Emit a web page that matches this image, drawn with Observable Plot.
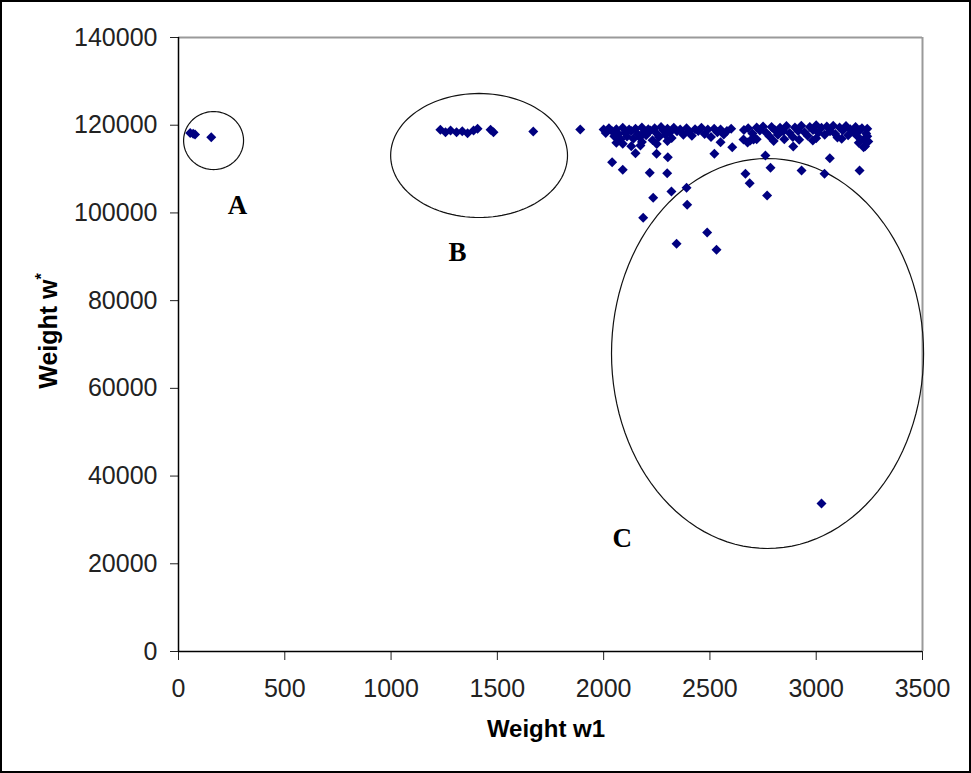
<!DOCTYPE html>
<html><head><meta charset="utf-8">
<script src="https://cdn.jsdelivr.net/npm/d3@7"></script>
<script src="https://cdn.jsdelivr.net/npm/@observablehq/plot@0.6"></script>
<style>body{margin:0;background:#fff}</style>
</head><body><div id="chart"></div>
<script>
const xTicks = [0, 500, 1000, 1500, 2000, 2500, 3000, 3500];
const yTicks = [0, 20000, 40000, 60000, 80000, 100000, 120000, 140000];
const xLabel = "Weight w1";
const yLabel = "Weight w";
const yLabelSup = "*";

// Weight w1 values of each point
const w1 = [
  55, 69, 78, 154,
  1232, 1256, 1280, 1308, 1335, 1360, 1388, 1407, 1468, 1482, 1669, 1890,
  2000, 2010, 2025, 2040, 2050, 2060, 2070, 2080, 2090, 2100, 2110, 2120, 2130, 2140, 2150, 2160, 2170, 2180, 2190, 2200,
  2210, 2220, 2230, 2240, 2250, 2260, 2270, 2280, 2290, 2300, 2310, 2320, 2330, 2345, 2360, 2375, 2390, 2400, 2415, 2430,
  2445, 2460, 2475, 2490, 2505, 2520, 2535, 2550, 2565, 2580, 2600, 2660, 2680, 2700, 2710, 2720, 2735, 2750, 2765, 2780,
  2790, 2805, 2820, 2830, 2845, 2860, 2875, 2890, 2900, 2915, 2930, 2945, 2960, 2970, 2985, 3000, 3010, 3025, 3040, 3050,
  3065, 3080, 3090, 3100, 3110, 3125, 3140, 3150, 3160, 3175, 3185, 3195, 3205, 3215, 3225, 3235, 3240, 3245,
  2060, 2090, 2130, 2180, 2250, 2300, 2550, 2690, 2720, 2800, 2850, 2920, 3000, 3120, 3200, 3230,
  2040, 2090, 2217, 2299, 2319, 2390, 2233, 2393, 2186, 2487, 2343, 2531, 2521, 2605, 2667, 2687,
  2249, 2302, 2150, 2173, 2658, 2677,
  2761, 2785, 2769, 2931, 3039, 3064, 3204, 2984, 2892, 2705, 3223, 3240,
  3025
];
// Weight w* values of each point
const wStar = [
  118200, 118040, 117900, 117270,
  118950, 118410, 118790, 118410, 118600, 118180, 118790, 119180, 118950, 118410, 118570, 119000,
  119000, 118200, 119300, 118600, 117500, 119100, 118000, 116800, 119400, 118300, 117400, 119000, 118700, 116900, 119200, 118000, 117200, 119500, 118400, 117700,
  119100, 118800, 116600, 119300, 118100, 117300, 119600, 118900, 117900, 119200, 118300, 117100, 119400, 118600, 119000, 117800, 119300, 118500, 117600, 119100,
  118700, 119400, 118000, 119000, 117300, 119200, 118400, 119000, 117900, 118700, 119200, 118900, 119300, 118100, 117000, 119500, 118800, 119700, 118300, 117500,
  119600, 118900, 117800, 119400, 118600, 119800, 118200, 117300, 119500, 118700, 119900, 118400, 117600, 119600, 118900, 120000, 118300, 119400, 117800, 119700,
  118600, 119900, 118000, 117200, 119500, 118800, 119800, 117700, 119100, 118400, 119600, 117400, 118900, 119300, 116800, 118100, 117500, 116300,
  116000, 115800, 115200, 116200, 115700, 116400, 116100, 116500, 116800, 116400, 116800, 116700, 117000, 116900, 116000, 115200,
  111570, 109830, 109150, 109070, 104890, 105730, 103450, 101850, 98890, 95540, 92970, 91600, 113480, 115000, 108920, 106780,
  113480, 112720, 113620, 115370, 116740, 116060,
  113100, 110290, 103970, 109680, 108920, 112490, 109680, 116510, 115140, 116740, 114990, 119170,
  33740
];
const points = w1.map((x, i) => ({x, y: wStar[i]}));

// annotation ellipses (centre and radii in data units) and their letters
const groupNames = ["A", "B", "C"];
const groupCx = [165, 1414, 2771];
const groupCy = [116500, 113100, 67950];
const groupRx = [141, 416, 734];
const groupRy = [6610, 14140, 44460];
const letterX = [278, 1312, 2088];
const letterY = [101700, 90980, 25770];

const outline = [];
groupNames.forEach((g, i) => {
  for (let k = 0; k <= 120; k++) {
    const t = (k / 120) * 2 * Math.PI;
    outline.push({g, x: groupCx[i] + groupRx[i] * Math.cos(t), y: groupCy[i] + groupRy[i] * Math.sin(t)});
  }
});
const letters = groupNames.map((g, i) => ({g, x: letterX[i], y: letterY[i]}));

const W = 971, H = 773;
const chart = Plot.plot({
  width: W, height: H,
  marginLeft: 178, marginRight: 49, marginTop: 37, marginBottom: 122,
  style: {fontFamily: "'Liberation Sans', Arial, sans-serif", fontSize: "25px", background: "#fff", overflow: "visible"},
  x: {domain: [0, 3500]},
  y: {domain: [0, 140000]},
  marks: [
    Plot.ruleY([140000], {stroke: "#9a9a9a", strokeWidth: 2}),
    Plot.ruleX([3500], {stroke: "#9a9a9a", strokeWidth: 2}),
    Plot.axisX({ticks: xTicks, tickSize: 9, tickPadding: 19, tickFormat: d => String(d), label: null, color: "#222"}),
    Plot.axisY({ticks: yTicks, tickSize: 8, tickPadding: 13, tickFormat: d => String(d), label: null, color: "#222"}),
    Plot.ruleY([0], {stroke: "#000", strokeWidth: 1.5}),
    Plot.ruleX([0], {stroke: "#000", strokeWidth: 1.5}),
    Plot.line(outline, {x: "x", y: "y", z: "g", stroke: "#111", strokeWidth: 1.2}),
    Plot.dot(points, {x: "x", y: "y", symbol: "diamond2", r: 4.5, fill: "#000080", stroke: "none"}),
    Plot.text(letters, {x: "x", y: "y", text: "g", fontFamily: "'Liberation Serif', 'Times New Roman', serif", fontWeight: "bold", fontSize: 27, fill: "#000"})
  ]
});
document.getElementById("chart").appendChild(chart);
const svg = d3.select(chart);
svg.append("rect").attr("x", 1).attr("y", 1).attr("width", W - 2).attr("height", H - 2)
  .attr("fill", "none").attr("stroke", "#000").attr("stroke-width", 2);
svg.append("text").attr("x", 546).attr("y", 737).attr("text-anchor", "middle")
  .attr("font-family", "'Liberation Sans', Arial, sans-serif").attr("font-weight", "bold").attr("font-size", 24)
  .attr("fill", "#000").text(xLabel);
const yl = svg.append("text").attr("transform", "translate(57,331) rotate(-90)").attr("text-anchor", "middle")
  .attr("font-family", "'Liberation Sans', Arial, sans-serif").attr("font-weight", "bold").attr("font-size", 25)
  .attr("fill", "#000");
yl.append("tspan").text(yLabel);
yl.append("tspan").attr("dy", -10).attr("font-size", 16).text(yLabelSup);
</script>
</body></html>
